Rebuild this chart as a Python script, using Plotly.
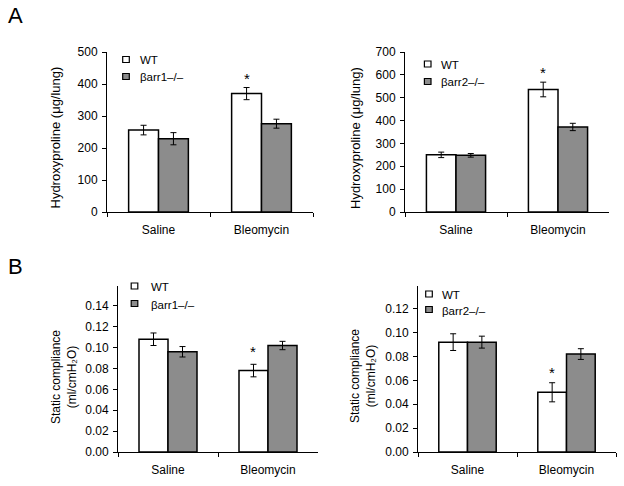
import plotly.graph_objects as go

# ---------------- data ----------------
categories = ["Saline", "Bleomycin"]
group_names = ["WT", "βarr1\u2013/\u2013", "βarr2\u2013/\u2013"]

hyp_arr1_wt = [256, 370]
hyp_arr1_wt_err = [15, 19]
hyp_arr1_ko = [229, 276]
hyp_arr1_ko_err = [19, 14]

hyp_arr2_wt = [250, 536]
hyp_arr2_wt_err = [12, 32]
hyp_arr2_ko = [248, 372]
hyp_arr2_ko_err = [8, 16]

comp_arr1_wt = [0.108, 0.078]
comp_arr1_wt_err = [0.006, 0.006]
comp_arr1_ko = [0.096, 0.102]
comp_arr1_ko_err = [0.005, 0.004]

comp_arr2_wt = [0.092, 0.050]
comp_arr2_wt_err = [0.007, 0.008]
comp_arr2_ko = [0.092, 0.082]
comp_arr2_ko_err = [0.005, 0.0045]

hyp_title = "Hydroxyproline (μg/lung)"
comp_title = "Static compliance<br>(ml/cmH\u2082O)"

# ---------------- style / layout helpers ----------------
W, H = 624, 486
FONT = "Liberation Sans"
WT_FILL = "#ffffff"
KO_FILL = "#8c8c8c"


def px(x):
    return x / W


def py(y):
    return 1 - y / H


panels = [
    dict(suf="", wt=hyp_arr1_wt, wt_err=hyp_arr1_wt_err, ko=hyp_arr1_ko, ko_err=hyp_arr1_ko_err,
         ko_name=group_names[1], xd=[px(107), px(313)], yd=[py(212), py(52)], yr=[0, 500],
         dt=100, fmt="d", title=hyp_title, tsize=13, tpos=(55.5, 138),
         leg=(126, 59.5, 17, 138), star_shift=-1),
    dict(suf="2", wt=hyp_arr2_wt, wt_err=hyp_arr2_wt_err, ko=hyp_arr2_ko, ko_err=hyp_arr2_ko_err,
         ko_name=group_names[2], xd=[px(405), px(609)], yd=[py(212), py(52)], yr=[0, 700],
         dt=100, fmt="d", title=hyp_title, tsize=13, tpos=(356, 138),
         leg=(427.7, 64, 17.5, 439), star_shift=-1),
    dict(suf="3", wt=comp_arr1_wt, wt_err=comp_arr1_wt_err, ko=comp_arr1_ko, ko_err=comp_arr1_ko_err,
         ko_name=group_names[1], xd=[px(118), px(318)], yd=[py(452), py(286)], yr=[0, 0.159],
         dt=0.02, fmt=".2f", title=comp_title, tsize=12, tpos=(63.5, 377.5),
         leg=(134.5, 286, 17.5, 148.5), star_shift=2),
    dict(suf="4", wt=comp_arr2_wt, wt_err=comp_arr2_wt_err, ko=comp_arr2_ko, ko_err=comp_arr2_ko_err,
         ko_name=group_names[2], xd=[px(418), px(616)], yd=[py(452), py(286)], yr=[0, 0.139],
         dt=0.02, fmt=".2f", title=comp_title, tsize=12, tpos=(362.5, 376.5),
         leg=(429, 294, 15.5, 440), star_shift=0),
]

fig = go.Figure()
layout = dict(
    width=W, height=H,
    margin=dict(l=0, r=0, t=0, b=0, autoexpand=False),
    paper_bgcolor="white", plot_bgcolor="white",
    font=dict(family=FONT, size=12, color="black"),
    barmode="group", bargap=0.42, bargroupgap=0,
    showlegend=False,
)

annotations = []
shapes = []
for p in panels:
    suf = p["suf"]
    xa, ya = "x" + suf, "y" + suf
    err_style = dict(type="data", color="black", thickness=1, width=3, visible=True)
    fig.add_trace(go.Bar(
        x=categories, y=p["wt"], name=group_names[0], xaxis=xa, yaxis=ya,
        marker=dict(color=WT_FILL, line=dict(color="black", width=1.5)),
        error_y=dict(array=p["wt_err"], **err_style),
    ))
    fig.add_trace(go.Bar(
        x=categories, y=p["ko"], name=p["ko_name"], xaxis=xa, yaxis=ya,
        marker=dict(color=KO_FILL, line=dict(color="black", width=1.5)),
        error_y=dict(array=p["ko_err"], **err_style),
    ))
    layout["xaxis" + suf] = dict(
        domain=p["xd"], anchor=ya, showline=True, linecolor="black", linewidth=1,
        ticks="outside", tickson="boundaries", ticklen=4, tickcolor="black",
        showgrid=False, zeroline=False, automargin=False, ticklabelstandoff=7,
        tickfont=dict(size=12, family=FONT),
    )
    layout["yaxis" + suf] = dict(
        domain=p["yd"], anchor=xa, range=p["yr"], dtick=p["dt"], tick0=0,
        tickformat=p["fmt"], showline=True, linecolor="black", linewidth=1,
        ticks="outside", ticklen=4, tickcolor="black", ticklabelstandoff=2,
        showgrid=False, zeroline=False, automargin=False,
        tickfont=dict(size=12, family=FONT),
    )
    # y-axis title
    tx, ty = p["tpos"]
    annotations.append(dict(
        x=px(tx), y=py(ty), xref="paper", yref="paper", text=p["title"],
        textangle=-90, showarrow=False, xanchor="center", yanchor="middle",
        font=dict(size=p["tsize"], family=FONT),
    ))
    # legend (small squares + labels)
    lx, ly, dy, tx0 = p["leg"]
    for i, (name, fill) in enumerate([(group_names[0], WT_FILL), (p["ko_name"], KO_FILL)]):
        cy = ly + i * dy
        shapes.append(dict(
            type="rect", xref="paper", yref="paper",
            x0=px(lx - 3.3), x1=px(lx + 3.3), y0=py(cy - 3), y1=py(cy + 3),
            fillcolor=fill, line=dict(color="black", width=1.2),
        ))
        annotations.append(dict(
            x=px(tx0), y=py(cy + 1), xref="paper", yref="paper", text=name,
            showarrow=False, xanchor="left", yanchor="middle",
            font=dict(size=11.5, family=FONT),
        ))
    # significance star above the WT Bleomycin bar
    annotations.append(dict(
        x=categories[1], y=p["wt"][1] + p["wt_err"][1], xref=xa, yref=ya,
        text="*", showarrow=False, yanchor="bottom", xshift=-15,
        yshift=p["star_shift"], font=dict(size=15, family=FONT),
    ))

annotations.append(dict(x=px(6), y=py(15), xref="paper", yref="paper", text="A",
                        showarrow=False, xanchor="left", yanchor="middle",
                        font=dict(size=22, family=FONT)))
annotations.append(dict(x=px(6), y=py(266.5), xref="paper", yref="paper", text="B",
                        showarrow=False, xanchor="left", yanchor="middle",
                        font=dict(size=22, family=FONT)))
layout["annotations"] = annotations
layout["shapes"] = shapes

fig.update_layout(**layout)
fig.write_html(
    "out.html",
    config={"displayModeBar": False},
    post_script="document.body.style.margin='0';document.body.style.overflow='hidden';",
)
